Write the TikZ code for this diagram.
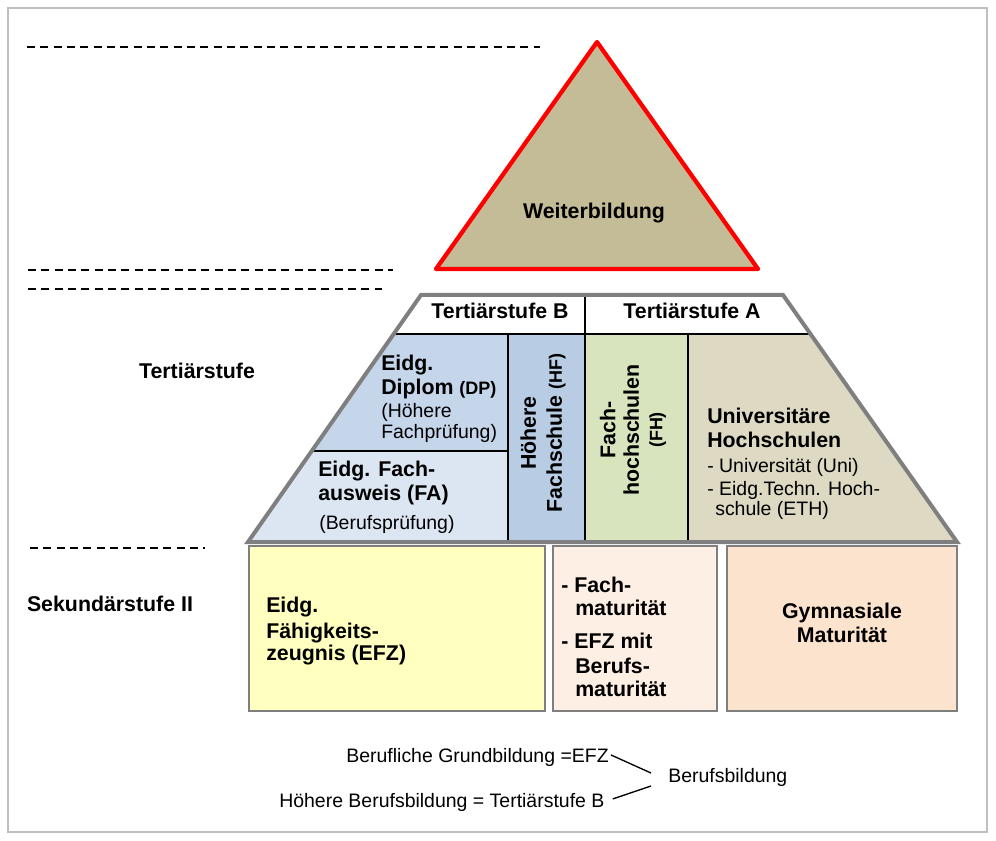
\documentclass[tikz,border=0pt]{standalone}
\usepackage{fontspec}
\setmainfont{Liberation Sans}
\definecolor{triTan}{HTML}{C4BC96}
\definecolor{dpBlue}{HTML}{C5D5EA}
\definecolor{faBlue}{HTML}{DCE6F2}
\definecolor{hfBlue}{HTML}{B8CCE4}
\definecolor{fhGreen}{HTML}{D7E4BD}
\definecolor{uniTan}{HTML}{DDD9C3}
\definecolor{efzYellow}{HTML}{FFFFC0}
\definecolor{midPeach}{HTML}{FDEFE3}
\definecolor{gymPeach}{HTML}{FCE3CE}
\definecolor{outlineGray}{HTML}{7F7F7F}
\begin{document}
\begin{tikzpicture}[x=0.75pt,y=-0.75pt,
  bt/.style={font=\fontsize{16}{18.75}\selectfont\bfseries, inner sep=0pt},
  rt/.style={font=\fontsize{14.6}{16.5}\selectfont, inner sep=0pt},
  guide/.style={dash pattern=on 6pt off 4pt, line width=1.2pt},
  cellsep/.style={line width=1.1pt, black},
  boxline/.style={draw=outlineGray, line width=1.5pt}]
\useasboundingbox (0,0) rectangle (996,841);
\draw[black!25, line width=0.8pt] (8,8) rectangle (987,832);

% dashed guide lines
\draw[guide] (27,47) -- (540,47);
\draw[guide] (28,270) -- (393,270);
\draw[guide] (28,289) -- (382,289);
\draw[guide] (30,548) -- (205,548);

% triangle
\draw[fill=triTan, draw=red, line width=3.2pt, line join=round] (597,42) -- (758,269) -- (436,269) -- cycle;
\node[bt, anchor=base] (wb) at (594,218.5) {Weiterbildung};

% trapezoid cells
\fill[white] (421,295) -- (783,295) -- (810.5,334) -- (393.5,334) -- cycle;
\fill[dpBlue] (393.5,334) -- (508,334) -- (508,451) -- (311,451) -- cycle;
\fill[faBlue] (311,451) -- (508,451) -- (508,542) -- (248,542) -- cycle;
\fill[hfBlue] (508,334) rectangle (585,542);
\fill[fhGreen] (585,334) rectangle (688,542);
\fill[uniTan] (688,334) -- (810.5,334) -- (957,542) -- (688,542) -- cycle;
\draw[cellsep] (393.5,334) -- (810.5,334);
\draw[cellsep] (585,295) -- (585,542);
\draw[cellsep] (508,334) -- (508,542);
\draw[cellsep] (688,334) -- (688,542);
\draw[cellsep] (311,451) -- (508,451);
\draw[draw=outlineGray, line width=3pt, line join=miter] (421,295) -- (783,295) -- (957,542) -- (248,542) -- cycle;

% header
\node[bt, anchor=base] (tb) at (500,318.5) {Tertiärstufe B};
\node[bt, anchor=base] (ta) at (692,318.5) {Tertiärstufe A};

% DP cell
\node[bt, anchor=base west] (dp1) at (381,370.5) {Eidg.};
\node[bt, anchor=base west] (dp2) at (381,394.5) {Diplom {\fontsize{13.5}{16}\selectfont (DP)}};
\node[rt, anchor=base west] (dp3) at (381,417) {(Höhere};
\node[rt, anchor=base west] (dp4) at (381,439) {Fachprüfung)};

% FA cell
\node[bt, anchor=base west] (fa1) at (318,476.5) {Eidg. Fach-};
\node[bt, anchor=base west] (fa2) at (318,500.5) {ausweis (FA)};
\node[rt, anchor=base west] (fa3) at (319,529) {(Berufsprüfung)};

% HF cell
\node[font=\fontsize{16}{19.5}\selectfont\bfseries, inner sep=0pt, rotate=90, align=center] (hf) at (543,433)
  {Höhere\\Fachschule {\fontsize{13.5}{16}\selectfont (HF)}};

% FH cell
\node[font=\fontsize{16}{17.6}\selectfont\bfseries, inner sep=0pt, rotate=90, align=center] (fh) at (633,430)
  {Fach-\\hochschulen\\{\fontsize{13.5}{16}\selectfont (FH)}};

% Uni cell
\node[bt, anchor=base west] (un1) at (707,423.5) {Universitäre};
\node[bt, anchor=base west] (un2) at (707,447.5) {Hochschulen};
\node[rt, anchor=base west] (un3) at (707,473) {- Universität (Uni)};
\node[rt, anchor=base west] (un4) at (707,495) {- Eidg.Techn. Hoch-};
\node[rt, anchor=base west] (un5) at (715,515) {schule (ETH)};

% left labels
\node[bt, anchor=base] (lt) at (197,378.5) {Tertiärstufe};
\node[bt, anchor=base] (ls) at (110,611.5) {Sekundärstufe II};

% bottom boxes
\draw[boxline, fill=efzYellow] (249,546) rectangle (545,711);
\draw[boxline, fill=midPeach] (553,546) rectangle (717,711);
\draw[boxline, fill=gymPeach] (727,546) rectangle (957,711);

\node[bt, anchor=base west] (ef1) at (266,612.5) {Eidg.};
\node[bt, anchor=base west] (ef2) at (266,638.5) {Fähigkeits-};
\node[bt, anchor=base west] (ef3) at (266,660.5) {zeugnis (EFZ)};

\node[bt, anchor=base west] (md1) at (561,592.5) {- Fach-};
\node[bt, anchor=base west] (md2) at (575,615.5) {maturität};
\node[bt, anchor=base west] (md3) at (561,648.5) {- EFZ mit};
\node[bt, anchor=base west] (md4) at (575,673.5) {Berufs-};
\node[bt, anchor=base west] (md5) at (575,696.5) {maturität};

\node[font=\fontsize{16}{18}\selectfont\bfseries, inner sep=0pt, align=center] (gy) at (842,623) {Gymnasiale\\Maturität};

% legend
\node[rt, anchor=base east] (lg1) at (609,762) {Berufliche Grundbildung =EFZ};
\node[rt, anchor=base west] (lg2) at (279,807) {Höhere Berufsbildung = Tertiärstufe B};
\node[rt, anchor=base west] (bb) at (668,782) {Berufsbildung};
\coordinate (b1) at (651,773);
\coordinate (b2) at (651,786);
\draw[line width=1pt] ([xshift=1.5pt,yshift=1.5pt]lg1.east) -- (b1);
\draw[line width=1pt] ([xshift=6pt,yshift=2.25pt]lg2.east) -- (b2);
\end{tikzpicture}
\end{document}
